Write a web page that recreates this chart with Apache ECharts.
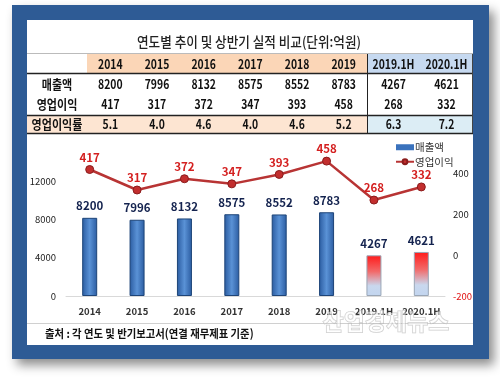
<!DOCTYPE html>
<html>
<head>
<meta charset="utf-8">
<script src="https://cdn.jsdelivr.net/npm/echarts@6/dist/echarts.min.js"></script>
<style>
html,body{margin:0;padding:0;background:#fff;}
#ech1{width:500px;height:377px;}
</style>
</head>
<body>
<div id="ech1"></div>
<script>
// 데이터
var years = ['2014', '2015', '2016', '2017', '2018', '2019', '2019.1H', '2020.1H'];
var sales = [8200, 7996, 8132, 8575, 8552, 8783, 4267, 4621];
var opProfit = [417, 317, 372, 347, 393, 458, 268, 332];
var opMargin = [5.1, 4.0, 4.6, 4.0, 4.6, 5.2, 6.3, 7.2];
var rowNames = ['매출액', '영업이익', '영업이익률'];
var leftTicks = [0, 4000, 8000, 12000];
var rightTicks = [-200, 0, 200, 400];

var KR = "'Noto Sans CJK KR', sans-serif";

var myChart = echarts.init(document.getElementById('ech1'));

// 표 좌표
function colX(i) {
	if (i < 6) return 87 + 46.67 * (i + 0.5);
	return 367 + 53 * (i - 6 + 0.5);
}
var rowY = [64, 84, 104, 124];

var graphics = [];
// 파란 테두리 + 그림자
graphics.push({ type: 'rect', z: -20, shape: { x: 12, y: 5, width: 477, height: 354 },
	style: { fill: '#2e5b95', shadowBlur: 10, shadowOffsetX: 5, shadowOffsetY: 6, shadowColor: 'rgba(0,0,0,0.45)' } });
graphics.push({ type: 'rect', z: -19, shape: { x: 27, y: 20, width: 446, height: 325 }, style: { fill: '#ffffff' } });
// 표 배경
graphics.push({ type: 'rect', z: -18, shape: { x: 87, y: 54, width: 280, height: 19 }, style: { fill: '#fbd6b7' } });
graphics.push({ type: 'rect', z: -18, shape: { x: 367, y: 54, width: 106, height: 19 }, style: { fill: '#c6d9f0' } });
graphics.push({ type: 'rect', z: -18, shape: { x: 27, y: 116, width: 340, height: 17 }, style: { fill: '#fde5d2' } });
graphics.push({ type: 'rect', z: -18, shape: { x: 367, y: 116, width: 106, height: 17 }, style: { fill: '#dcedf5' } });
// 표 선
function hline(y, c, w) {
	graphics.push({ type: 'line', z: -17, shape: { x1: 27, y1: y, x2: 473, y2: y }, style: { stroke: c, lineWidth: w } });
}
hline(53.5, '#bbbbbb', 1);
hline(73.5, '#222222', 1.5);
hline(115.5, '#222222', 1.5);
hline(133.5, '#222222', 1.5);
hline(323.5, '#d0d0d0', 1);
graphics.push({ type: 'line', z: -17, shape: { x1: 367.5, y1: 54, x2: 367.5, y2: 133 }, style: { stroke: '#222', lineWidth: 1 } });
graphics.push({ type: 'line', z: -17, shape: { x1: 472.5, y1: 54, x2: 472.5, y2: 133 }, style: { stroke: '#444', lineWidth: 1 } });

// 제목
graphics.push({ type: 'text', x: 249, y: 42, scaleX: 0.9, style: { text: '연도별 추이 및 상반기 실적 비교(단위:억원)', font: '500 14px ' + KR,
	fill: '#222', align: 'center', verticalAlign: 'middle' } });
// 표 텍스트
for (var r = 0; r < 3; r++) {
	graphics.push({ type: 'text', x: 57, y: rowY[r + 1], scaleX: 0.85, style: { text: rowNames[r], font: 'bold 13px ' + KR,
		fill: '#111', align: 'center', verticalAlign: 'middle' } });
}
for (var i = 0; i < years.length; i++) {
	var vals = [years[i], String(sales[i]), String(opProfit[i]), opMargin[i].toFixed(1)];
	for (var k = 0; k < 4; k++) {
		graphics.push({ type: 'text', x: colX(i), y: rowY[k], scaleX: 0.8, style: { text: vals[k], font: 'bold 13px ' + KR,
			fill: '#111', align: 'center', verticalAlign: 'middle' } });
	}
}
// 출처
graphics.push({ type: 'text', x: 45, y: 334, scaleX: 0.9, style: { text: '출처 : 각 연도 및 반기보고서(연결 재무제표 기준)', font: 'bold 11.5px ' + KR,
	fill: '#111', align: 'left', verticalAlign: 'middle' } });
// 워터마크
graphics.push({ type: 'text', x: 386, y: 321, z: 10, style: { text: '산업경제뉴스', font: 'bold 23px ' + KR,
	fill: 'rgba(255,255,255,0.5)', stroke: 'rgba(160,160,160,0.55)', lineWidth: 1, align: 'center', verticalAlign: 'middle' } });

var blueBar = {
	color: new echarts.graphic.LinearGradient(0, 0, 1, 0, [
		{ offset: 0, color: '#2a5ba0' }, { offset: 0.5, color: '#5a92d6' }, { offset: 1, color: '#2a5ba0' }
	]),
	borderColor: '#1d4478', borderWidth: 1
};
var redBar = {
	color: new echarts.graphic.LinearGradient(0, 0, 0, 1, [
		{ offset: 0, color: '#ff1a1a' }, { offset: 0.4, color: '#f26a6a' }, { offset: 0.75, color: '#c9d8ee' }, { offset: 1, color: '#c2d5ef' }
	]),
	borderColor: '#9aa6b6', borderWidth: 1
};
var barData = sales.map(function(v, i) {
	return { value: v, itemStyle: i < 6 ? blueBar : redBar };
});

var option = {
	animation: false,
	textStyle: { fontFamily: KR },
	graphic: graphics,
	grid: { left: 66, right: 55, top: 132, bottom: 81 },
	legend: {
		orient: 'vertical', left: 390, top: 137, itemGap: 4, itemWidth: 18, itemHeight: 6,
		textStyle: { fontSize: 10.5, color: '#333', padding: [0, 0, 0, -4] },
		data: [{ name: '매출액', icon: 'rect' }, { name: '영업이익' }]
	},
	xAxis: {
		type: 'category', data: years,
		axisLine: { lineStyle: { color: '#d9d9d9' } },
		axisTick: { show: false },
		axisLabel: { color: '#333', fontSize: 9.5, fontWeight: 'bold', margin: 11, interval: 0 }
	},
	yAxis: [{
		type: 'value', min: 0, max: 17200, interval: 4000,
		splitLine: { show: false },
		axisLabel: { color: '#222', fontSize: 9.5, margin: 10, showMaxLabel: false,
			formatter: function(v) { return leftTicks.indexOf(v) >= 0 ? String(v) : ''; } }
	}, {
		type: 'value', min: -200, max: 600, interval: 200,
		splitLine: { show: false },
		axisLabel: { fontSize: 9.5, margin: 8, showMaxLabel: false,
			formatter: function(v) { return rightTicks.indexOf(v) >= 0 ? (v < 0 ? '{r|' + v + '}' : String(v)) : ''; },
			color: '#222', rich: { r: { color: '#e01010', fontSize: 9.5 } } }
	}],
	series: [{
		name: '매출액', type: 'bar', data: barData, barWidth: 15,
		itemStyle: { color: '#3a72bd' },
		label: { show: true, position: 'top', distance: 6, color: '#14234f', fontSize: 11.5, fontWeight: 'bold' }
	}, {
		name: '영업이익', type: 'line', yAxisIndex: 1, data: opProfit,
		symbol: 'circle', symbolSize: 8,
		lineStyle: { color: '#b83434', width: 2.5 },
		itemStyle: { color: '#c22e2e', borderColor: '#8a1c1c', borderWidth: 1 },
		label: { show: true, position: 'top', distance: 2, color: '#d42020', fontSize: 11.5, fontWeight: 'bold' }
	}]
};
myChart.setOption(option);
</script>
</body>
</html>
